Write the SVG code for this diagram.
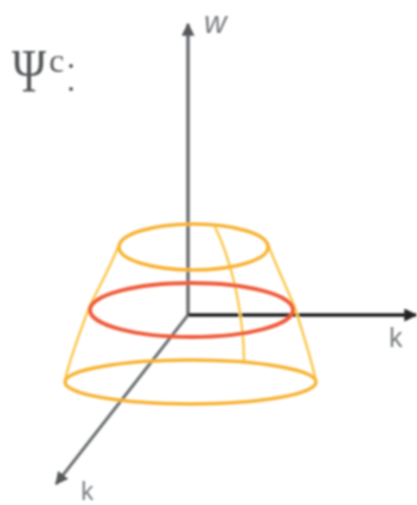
<svg xmlns="http://www.w3.org/2000/svg" width="417" height="505" viewBox="0 0 417 505">
<style>
.ax{fill:none;stroke-linecap:butt}
.o{fill:none;stroke:#f7b335;stroke-width:3.500}
.t{fill:none;stroke:#fbc850;stroke-width:2.500}
.l{font-family:"Liberation Sans",sans-serif;fill:#777b7e}
.s{font-family:"Liberation Serif",serif;fill:#55585a}
</style>
<defs>
<filter id="b" x="-5%" y="-5%" width="110%" height="110%"><feGaussianBlur stdDeviation="0.9"/></filter>
<marker id="ag" viewBox="0 0 10 10" refX="9" refY="5" markerWidth="13" markerHeight="13" markerUnits="userSpaceOnUse" orient="auto"><path d="M0 0L10 5L0 10Z" fill="#55585a"/></marker>
<marker id="ak" viewBox="0 0 10 10" refX="9" refY="5" markerWidth="13" markerHeight="13" markerUnits="userSpaceOnUse" orient="auto"><path d="M0 0L10 5L0 10Z" fill="#222"/></marker>
</defs>
<g filter="url(#b)">
<g id="connectors">
<line class="ax" x1="188" y1="315" x2="188" y2="24" stroke="#6b6e70" stroke-width="3.500" marker-end="url(#ag)"/>
<line class="ax" x1="188" y1="315" x2="416" y2="315" stroke="#1d1d1d" stroke-width="3.500" marker-end="url(#ak)"/>
<line class="ax" x1="188" y1="315" x2="56" y2="484" stroke="#6b6e70" stroke-width="3" marker-end="url(#ag)"/>
</g>
<g id="surface">
<path class="t" d="M118 247C110 268 98 288 89 308C80 332 70 358 65 380"/>
<path class="t" d="M268 244C276 266 287 288 295 308C303 333 311 358 316 381"/>
<path class="t" d="M215 227C224 245 231 268 236 290C241 315 244 340 244 361"/>
<ellipse id="top-ring" class="o" cx="193.500" cy="247" rx="74.500" ry="23"/>
<ellipse id="bottom-ring" class="o" cx="190.500" cy="382" rx="125.500" ry="22"/>
<ellipse id="middle-ring" cx="191.500" cy="310" rx="101.500" ry="27" fill="none" stroke="#ef5b3a" stroke-width="4"/>
</g>
<g id="labels">
<text class="s" transform="translate(12 91) scale(1.05 1.400)" font-size="44">Ψ</text>
<text class="s" x="49" y="72" font-size="34">c</text>
<circle cx="71" cy="66" r="2" fill="#55585a"/>
<circle cx="71" cy="89" r="2" fill="#55585a"/>
<text class="l" x="204" y="33" font-size="31" font-style="italic">w</text>
<text class="l" x="389" y="347" font-size="27">k</text>
<text class="l" x="81" y="499.500" font-size="25">k</text>
</g>
</g>
</svg>
